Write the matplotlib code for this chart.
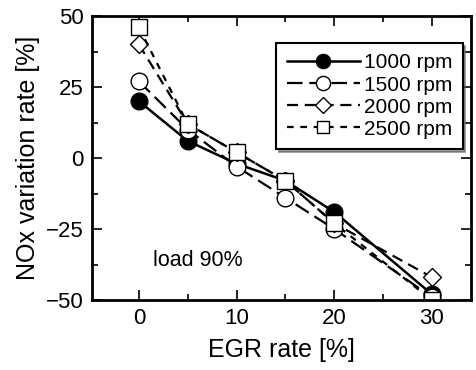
import matplotlib.pyplot as plt
from matplotlib.ticker import MultipleLocator

plt.rcParams["font.family"] = ["Liberation Sans", "DejaVu Sans"]

egr = [0, 5, 10, 15, 20, 30]
nox_1000 = [20, 6, -2, -8, -19, -48]
nox_1500 = [27, 10, -3, -14, -25, -49]
nox_2000 = [40, 12, 2, -8, -23, -42]
nox_2500 = [46, 12, 2, -8, -23, -50]
labels = ["1000 rpm", "1500 rpm", "2000 rpm", "2500 rpm"]

fig = plt.figure(figsize=(4.76, 3.70), dpi=100)
ax = fig.add_axes([92 / 476, 70 / 370, 379 / 476, 284 / 370])

ax.plot(egr, nox_1000, "k-", marker="o", ms=12, mfc="black", lw=1.8, label=labels[0])
ax.plot(egr, nox_1500, color="black", ls=(0, (7, 3)), marker="o", ms=12, mfc="white", lw=1.6, label=labels[1])
ax.plot(egr, nox_2000, color="black", ls=(0, (5, 3)), marker="D", ms=9, mfc="white", lw=1.6, label=labels[2])
ax.plot(egr, nox_2500, color="black", ls=(0, (3, 3)), marker="s", ms=11, mfc="white", lw=1.6, label=labels[3])

ax.set_xlim(-4.8, 34)
ax.set_ylim(-50, 50)
ax.set_xticks([0, 10, 20, 30])
ax.set_yticks([-50, -25, 0, 25, 50])
ax.xaxis.set_minor_locator(MultipleLocator(5))
ax.yaxis.set_minor_locator(MultipleLocator(12.5))
ax.tick_params(which="both", direction="in", top=True, right=True, labelsize=16, width=1.2)
ax.tick_params(which="major", length=7, pad=6)
ax.tick_params(which="minor", length=4)
for s in ax.spines.values():
    s.set_linewidth(2)

ax.set_xlabel("EGR rate [%]", fontsize=18, labelpad=6)
ax.set_ylabel("NOx variation rate [%]", fontsize=18, labelpad=4)
ax.text(1.4, -36, "load 90%", fontsize=15.5, va="center")

leg = ax.legend(loc="upper right", bbox_to_anchor=(0.978, 0.905), fontsize=15, frameon=True,
                fancybox=False, shadow=True, handlelength=3.5, handletextpad=0.2,
                labelspacing=0.15, borderpad=0.5, markerscale=0.85, borderaxespad=0)
leg.get_frame().set_edgecolor("black")
leg.get_frame().set_linewidth(1.5)

fig.savefig("out.png", dpi=100)
